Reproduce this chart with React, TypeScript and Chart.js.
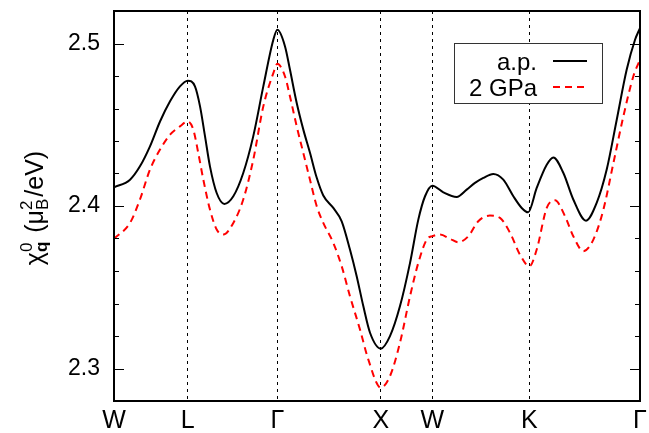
import { useEffect, useRef } from 'react';
import { Chart, registerables } from 'chart.js';

Chart.register(...registerables);

const FONT = '"Liberation Sans", Arial, Helvetica, sans-serif';

const SYM_LABELS = ['W', 'L', 'Γ', 'X', 'W', 'K', 'Γ'];
const SYM_POS = [0, 0.713, 1.58, 2.58, 3.079, 4.017, 5.087];
const Y_MAJOR = [2.3, 2.4, 2.5];
const Y_MIN = 2.28;
const Y_MAX = 2.52;
const SERIES_LABELS = ['a.p.', '2 GPa'];

const AP_X = [0, 0.155, 0.251, 0.348, 0.445, 0.542, 0.638, 0.713, 0.783, 0.832, 0.88, 0.928, 0.993, 1.067, 1.154, 1.25, 1.347, 1.444, 1.541, 1.58, 1.654, 1.702, 1.767, 1.831, 1.896, 1.96, 2.024, 2.121, 2.202, 2.282, 2.347, 2.411, 2.476, 2.58, 2.669, 2.766, 2.863, 2.943, 3.008, 3.079, 3.185, 3.314, 3.411, 3.491, 3.572, 3.668, 3.765, 3.862, 3.943, 4.005, 4.088, 4.185, 4.249, 4.346, 4.442, 4.565, 4.668, 4.765, 4.862, 4.958, 5.039, 5.087];
const AP_Y = [2.4115, 2.4162, 2.4244, 2.4367, 2.452, 2.4644, 2.4736, 2.4771, 2.4736, 2.4613, 2.443, 2.4244, 2.408, 2.4013, 2.406, 2.4203, 2.443, 2.4736, 2.5023, 2.5084, 2.4982, 2.4838, 2.4634, 2.447, 2.4326, 2.4175, 2.4065, 2.3988, 2.3906, 2.3732, 2.3568, 2.3384, 2.322, 2.3122, 2.3199, 2.3384, 2.365, 2.3916, 2.406, 2.4125, 2.4084, 2.4056, 2.4101, 2.4142, 2.4173, 2.4197, 2.4162, 2.406, 2.3988, 2.3961, 2.4111, 2.4254, 2.4299, 2.4203, 2.404, 2.391, 2.4019, 2.4224, 2.4531, 2.4838, 2.5023, 2.5095];

const GPA_X = [0, 0.155, 0.251, 0.348, 0.445, 0.542, 0.638, 0.713, 0.767, 0.815, 0.864, 0.928, 0.993, 1.057, 1.154, 1.25, 1.347, 1.444, 1.541, 1.58, 1.654, 1.702, 1.767, 1.831, 1.896, 1.96, 2.024, 2.121, 2.202, 2.282, 2.379, 2.459, 2.58, 2.669, 2.766, 2.863, 2.943, 3.024, 3.079, 3.153, 3.25, 3.33, 3.427, 3.523, 3.636, 3.733, 3.83, 3.926, 4.017, 4.088, 4.185, 4.265, 4.362, 4.442, 4.539, 4.636, 4.733, 4.83, 4.926, 5.022, 5.087];
const GPA_Y = [2.3798, 2.3896, 2.404, 2.4224, 2.4347, 2.4439, 2.449, 2.452, 2.447, 2.4326, 2.4162, 2.3978, 2.3855, 2.3824, 2.3896, 2.404, 2.4285, 2.4613, 2.4818, 2.4875, 2.4797, 2.4674, 2.449, 2.4326, 2.416, 2.4, 2.3896, 2.3773, 2.3629, 2.3445, 2.324, 2.3056, 2.2882, 2.2953, 2.3159, 2.3445, 2.365, 2.3793, 2.3815, 2.3824, 2.3798, 2.3777, 2.3814, 2.3906, 2.3941, 2.3927, 2.3835, 2.3701, 2.3629, 2.3732, 2.3988, 2.4035, 2.3937, 2.3814, 2.3722, 2.3793, 2.3978, 2.4265, 2.4551, 2.4797, 2.49];

const MINOR_STEP = 0.02;

type Seg = { t: string; size: number; dy: number; bold?: boolean };

function drawYTitle(ctx: CanvasRenderingContext2D, cx: number, cy: number) {
  const big = 25;
  const small = 17;
  const groups: Seg[][] = [
    [{ t: 'χ', size: big, dy: 0 }],
    [
      { t: '0', size: small, dy: -11 },
      { t: 'q', size: small, dy: 4, bold: true },
    ],
    [{ t: ' (μ', size: big, dy: 0 }],
    [
      { t: 'B', size: small, dy: 5 },
      { t: '2', size: small, dy: -11 },
    ],
    [{ t: '/eV)', size: big, dy: 0 }],
  ];
  const fontOf = (s: Seg) => `${s.bold ? 'bold ' : ''}${s.size}px ${FONT}`;
  const widths = groups.map((g) =>
    Math.max(
      ...g.map((s) => {
        ctx.font = fontOf(s);
        return ctx.measureText(s.t).width;
      })
    )
  );
  const gaps = groups.map((g) => (g.length > 1 ? 2 : 0));
  const total = widths.reduce((a, b) => a + b, 0) + gaps.reduce((a, b) => a + b, 0);
  ctx.save();
  ctx.translate(cx, cy);
  ctx.rotate(-Math.PI / 2);
  ctx.fillStyle = '#000';
  ctx.textBaseline = 'alphabetic';
  ctx.textAlign = 'left';
  let x = -total / 2;
  groups.forEach((g, i) => {
    g.forEach((s) => {
      ctx.font = fontOf(s);
      ctx.fillText(s.t, x + 1, s.dy);
    });
    x += widths[i] + gaps[i];
  });
  ctx.restore();
}

const decorPlugin = {
  id: 'decor',
  afterDatasetsDraw(chart: any) {
    const { ctx, chartArea } = chart;
    const { left, right, top, bottom } = chartArea;
    const yScale = chart.scales.y;
    ctx.save();
    ctx.strokeStyle = '#000';
    ctx.lineWidth = 1;
    const nMinor = Math.round((Y_MAX - Y_MIN) / MINOR_STEP);
    for (let i = 0; i <= nMinor; i++) {
      const v = Y_MIN + i * MINOR_STEP;
      const isMajor = Y_MAJOR.some((m) => Math.abs(m - v) < 1e-6);
      const len = isMajor ? 10 : 5;
      const py = Math.round(yScale.getPixelForValue(v)) + 0.5;
      ctx.beginPath();
      ctx.moveTo(left, py);
      ctx.lineTo(left + len, py);
      ctx.moveTo(right, py);
      ctx.lineTo(right - len, py);
      ctx.stroke();
    }
    ctx.lineWidth = 2;
    ctx.strokeRect(left, top, right - left, bottom - top);

    // legend
    const bx = Math.round(right - 186);
    const by = Math.round(top + 32);
    const bw = 148;
    const bh = 60;
    ctx.fillStyle = '#fff';
    ctx.fillRect(bx, by, bw, bh);
    ctx.lineWidth = 1;
    ctx.strokeStyle = '#333';
    ctx.strokeRect(bx + 0.5, by + 0.5, bw, bh);
    ctx.font = `24px ${FONT}`;
    ctx.fillStyle = '#000';
    ctx.textAlign = 'right';
    ctx.textBaseline = 'middle';
    const rows = [by + 19, by + 45];
    chart.data.datasets.forEach((ds: any, i: number) => {
      ctx.fillText(ds.label, bx + 83, rows[i] + 1);
      ctx.save();
      ctx.strokeStyle = ds.borderColor;
      ctx.lineWidth = 2;
      ctx.setLineDash(ds.borderDash || []);
      ctx.beginPath();
      ctx.moveTo(bx + 99, rows[i] - 1);
      ctx.lineTo(bx + 133, rows[i] - 1);
      ctx.stroke();
      ctx.restore();
    });
    ctx.restore();
  },
  afterDraw(chart: any) {
    const { ctx, chartArea } = chart;
    drawYTitle(ctx, 43, (chartArea.top + chartArea.bottom) / 2 + 3);
  },
};

export default function App() {
  const canvasRef = useRef<HTMLCanvasElement | null>(null);

  useEffect(() => {
    if (!canvasRef.current) return;
    const chart = new Chart(canvasRef.current, {
      type: 'line',
      data: {
        datasets: [
          {
            label: SERIES_LABELS[0],
            data: AP_X.map((x, i) => ({ x, y: AP_Y[i] })),
            borderColor: '#000000',
            borderWidth: 2,
            pointRadius: 0,
            fill: false,
            cubicInterpolationMode: 'monotone',
          },
          {
            label: SERIES_LABELS[1],
            data: GPA_X.map((x, i) => ({ x, y: GPA_Y[i] })),
            borderColor: '#ff0000',
            borderWidth: 2,
            borderDash: [7, 5],
            pointRadius: 0,
            fill: false,
            cubicInterpolationMode: 'monotone',
          },
        ],
      },
      options: {
        animation: false,
        responsive: true,
        maintainAspectRatio: false,
        layout: { padding: { top: 11, right: 9, left: 0, bottom: 0 } },
        plugins: {
          legend: { display: false },
          tooltip: { enabled: false },
        },
        scales: {
          x: {
            type: 'linear',
            min: SYM_POS[0],
            max: SYM_POS[SYM_POS.length - 1],
            afterBuildTicks: (s: any) => {
              s.ticks = SYM_POS.map((v) => ({ value: v }));
            },
            afterFit: (s: any) => {
              s.height = 32;
              s.paddingLeft = 0;
              s.paddingRight = 0;
            },
            ticks: {
              autoSkip: false,
              maxRotation: 0,
              padding: 5,
              color: '#000',
              font: { family: FONT, size: 25 },
              callback: (_v: any, i: number) => SYM_LABELS[i],
            },
            grid: { color: '#000', lineWidth: 1, drawTicks: false },
            border: { display: false, dash: [3, 4] },
          },
          y: {
            type: 'linear',
            min: Y_MIN,
            max: Y_MAX,
            afterBuildTicks: (s: any) => {
              s.ticks = Y_MAJOR.map((v) => ({ value: v }));
            },
            afterFit: (s: any) => {
              s.width = 114;
              s.paddingTop = 0;
              s.paddingBottom = 0;
            },
            ticks: {
              padding: 14,
              color: '#000',
              font: { family: FONT, size: 23 },
              callback: (v: any) => Number(v).toFixed(1),
            },
            grid: { display: false, drawTicks: false },
            border: { display: false },
          },
        },
      },
      plugins: [decorPlugin],
    } as any);
    return () => chart.destroy();
  }, []);

  return (
    <div style={{ position: 'fixed', left: 0, top: 0, width: 649, height: 433, background: '#fff' }}>
      <canvas ref={canvasRef} />
    </div>
  );
}
